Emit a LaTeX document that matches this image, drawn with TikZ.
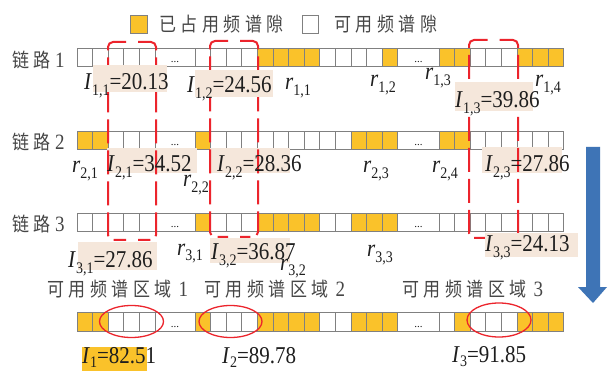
\documentclass[tikz,border=0pt]{standalone}
\usepackage{fontspec}
\usepackage{graphicx}
\setmainfont{Liberation Serif}
\newfontfamily\cjk{Noto Sans CJK SC}
\definecolor{gold}{RGB}{250,194,42}
\definecolor{beige}{RGB}{245,231,219}
\definecolor{rd}{RGB}{236,36,44}
\definecolor{bl}{RGB}{62,116,182}
\definecolor{sg}{RGB}{128,128,128}
\definecolor{tx}{RGB}{30,30,30}
\definecolor{cn}{RGB}{70,70,70}
\colorlet{Y}{gold}
\colorlet{W}{white}
\newcommand\vs[1]{\scalebox{1}[1.15]{#1}}
\newcommand\subx[1]{\raisebox{-4.5pt}{\fontsize{14}{14}\selectfont #1}}
\newcommand\subb[1]{\raisebox{-3.5pt}{\fontsize{14}{14}\selectfont #1}}
\newcommand\Il[2]{\vs{\textit{I}\subx{#1}=#2}}
\newcommand\Ib[2]{\vs{\textit{I}\subb{#1}=#2}}
\newcommand\rl[1]{\vs{\textit{r}\subx{#1}}}
\newcommand\gp{\hspace{4.5pt}}
\newcommand\dg[1]{{\rmfamily\fontsize{19}{19}\selectfont #1}}
\newcommand\slotrow[5]{%
  \foreach \c [count=\i from 0] in {#3} {\draw[slot,fill=\c] (77+\i*15.6,#2) rectangle ++(15.6,18.5);}
  \draw[slot] (155,#2) rectangle (195,#2+18.5);
  \foreach \c [count=\i from 0] in {#4} {\draw[slot,fill=\c] (195+\i*15.6,#2) rectangle ++(15.6,18.5);}
  \draw[slot] (397.8,#2) rectangle (439,#2+18.5);
  \foreach \c [count=\i from 0] in {#5} {\draw[slot,fill=\c] (439+\i*15.6,#2) rectangle ++(15.6,18.5);}
  \node[dots] (#1a) at (175,#2+15) {...};
  \node[dots] (#1b) at (418.4,#2+15) {...};
}
\newcommand\rdbox[4]{%
  \draw[rbox] ({(#1+#3)/2+6},#2) -| (#3,#4) -- ({(#1+#3)/2+6},#4);
  \draw[rbox] ({(#1+#3)/2-6},#2) -| (#1,#4) -- ({(#1+#3)/2-6},#4);}
\begin{document}
\begin{tikzpicture}[x=1pt,y=-1pt,font=\fontsize{21}{21}\selectfont,
  slot/.style={draw=sg,line width=0.8pt},
  dots/.style={anchor=base,inner sep=0pt,text=tx,font=\fontsize{11}{11}\selectfont},
  hl/.style={fill=beige},
  rbox/.style={draw=rd,line width=2pt,rounded corners=5pt,dash pattern=on 24pt off 7pt},
  rell/.style={draw=rd,line width=1.3pt},
  lab/.style={anchor=base west,inner sep=0pt,text=tx},
  cnl/.style={anchor=west,inner sep=0pt,text=cn,font=\cjk\fontsize{17}{17}\selectfont}]
\fill[white] (0,0) rectangle (610,371);
\useasboundingbox (0,0) rectangle (610,371);
% legend
\draw[slot,fill=gold] (130,15) rectangle (147,33);
\node[cnl] (lg1) at (159,24) {\vs{已\gp 占\gp 用\gp 频\gp 谱\gp 隙}};
\draw[slot,fill=white] (302,15) rectangle (318,33);
\node[cnl] (lg2) at (334,24) {\vs{可\gp 用\gp 频\gp 谱\gp 隙}};
% link labels
\node[cnl] (L1) at (12,60) {\vs{链\gp 路\gp\dg{1}}};
\node[cnl] (L2) at (12,142) {\vs{链\gp 路\gp\dg{2}}};
\node[cnl] (L3) at (12,224) {\vs{链\gp 路\gp\dg{3}}};
% rows
\slotrow{ra}{48}{W,W,W,W,W}{W,W,W,W,Y,Y,Y,Y,W,W,W,W,Y}{Y,Y,W,W,W,Y,Y,Y}
\slotrow{rb}{131}{Y,Y,W,W,W}{Y,W,W,W,W,W,W,W,W,W,Y,Y,Y}{Y,Y,W,W,W,W,W,W}
\slotrow{rc}{213}{W,W,W,W,W}{Y,W,W,W,Y,Y,Y,Y,W,W,Y,Y,Y}{W,W,W,W,W,W,W,W}
\slotrow{rd}{312.5}{Y,Y,W,W,W}{Y,W,W,W,Y,Y,Y,Y,W,W,Y,Y,Y}{W,Y,W,W,W,Y,Y,Y}
% beige boxes under red
\fill[hl] (107,148) rectangle (197,173);
\fill[hl] (210,148) rectangle (290,173);
\fill[hl] (482,147) rectangle (562,173);
\fill[hl] (78,242) rectangle (157,270);
\fill[hl] (210,238) rectangle (290,263);
% red dashed boxes
\rdbox{108}{42}{156}{240}
\rdbox{210}{41}{258}{237}
\rdbox{469}{40}{518}{238}
% beige boxes over red
\fill[hl] (93,65) rectangle (167,92);
\fill[hl] (195,70) rectangle (273,97);
\fill[hl] (455,82) rectangle (533,111);
\fill[hl] (485,233) rectangle (578,257);
% row 1 labels
\node[lab] (i11) at (84,90) {\Il{1,1}{20.13}};
\node[lab] (i12) at (187,93) {\Il{1,2}{24.56}};
\node[lab] (i13) at (455,108) {\Il{1,3}{39.86}};
\node[lab] (r11) at (285,90) {\rl{1,1}};
\node[lab] (r12) at (370,87) {\rl{1,2}};
\node[lab] (r13) at (425,80) {\rl{1,3}};
\node[lab] (r14) at (535,87) {\rl{1,4}};
% row 2 labels
\node[lab] (r21) at (72,173) {\rl{2,1}};
\node[lab] (i21) at (107,172) {\Il{2,1}{34.52}};
\node[lab] (r22) at (183,187) {\rl{2,2}};
\node[lab] (i22) at (217,172) {\Il{2,2}{28.36}};
\node[lab] (r23) at (363,173) {\rl{2,3}};
\node[lab] (r24) at (432,173) {\rl{2,4}};
\node[lab] (i23) at (485,172) {\Il{2,3}{27.86}};
% row 3 labels
\node[lab] (i31) at (68,268) {\Il{3,1}{27.86}};
\node[lab] (r31) at (177,255) {\rl{3,1}};
\node[lab] (i32) at (211,260) {\Il{3,2}{36.87}};
\node[lab] (r32) at (280,270) {\rl{3,2}};
\node[lab] (r33) at (367,257) {\rl{3,3}};
\node[lab] (i33) at (485,252) {\Il{3,3}{24.13}};
% region labels
\node[cnl] (R1) at (47,289) {\vs{可\gp 用\gp 频\gp 谱\gp 区\gp 域\hspace{7pt}\dg{1}}};
\node[cnl] (R2) at (204,289) {\vs{可\gp 用\gp 频\gp 谱\gp 区\gp 域\hspace{7pt}\dg{2}}};
\node[cnl] (R3) at (402,289) {\vs{可\gp 用\gp 频\gp 谱\gp 区\gp 域\hspace{7pt}\dg{3}}};
% ellipses
\draw[rell] (131.5,321.5) ellipse [x radius=32, y radius=16];
\draw[rell] (230.5,321.5) ellipse [x radius=31.5, y radius=16];
\draw[rell] (499,320) ellipse [x radius=32, y radius=17];
% bottom labels
\fill[gold] (82,347) rectangle (147,371);
\node[lab] (b1) at (82,363) {\Ib{1}{82.51}};
\node[lab] (b2) at (222,363) {\Ib{2}{89.78}};
\node[lab] (b3) at (452,362.5) {\Ib{3}{91.85}};
% arrow
\fill[bl] (586,147) -- (600,147) -- (600,287) -- (607,287) -- (593,303) -- (578,287) -- (586,287) -- cycle;
\end{tikzpicture}
\end{document}
